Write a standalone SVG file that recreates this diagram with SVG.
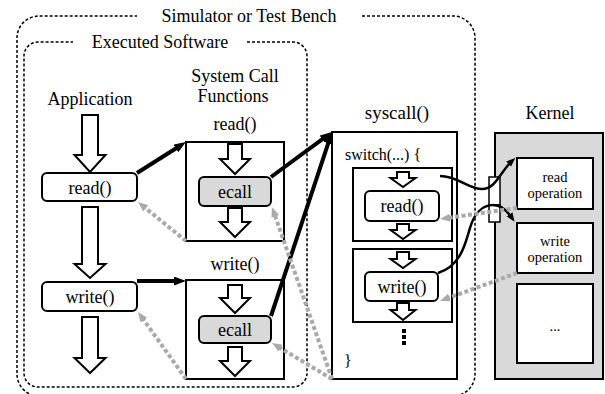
<svg xmlns="http://www.w3.org/2000/svg" width="605" height="394" viewBox="0 0 605 394">
<defs>
<style>
text{font-family:"Liberation Serif","Times New Roman",serif;fill:#000}
.t18{font-size:18px}
.t16{font-size:16px}
.t14{font-size:14.5px}
.mid{text-anchor:middle}
.dash{fill:none;stroke:#000;stroke-width:1.5;stroke-dasharray:3 2}
.box{fill:#fff;stroke:#000;stroke-width:2}
.gbox{fill:#d9d9d9;stroke:#000;stroke-width:2}
.hol{fill:#fff;stroke:#000;stroke-width:2;stroke-linejoin:miter}
.blk{fill:none;stroke:#000;stroke-width:4}
.crv{fill:none;stroke:#000;stroke-width:2.5}
.gry{fill:none;stroke:#aaa;stroke-width:4;stroke-dasharray:4 2.5}
</style>
<marker id="ab" markerUnits="userSpaceOnUse" markerWidth="12" markerHeight="10" refX="6" refY="4.5" orient="auto"><path d="M0,0 L12,4.5 L0,9 z" fill="#000"/></marker>
<marker id="ac" markerUnits="userSpaceOnUse" markerWidth="10" markerHeight="8" refX="4.5" refY="3.5" orient="auto"><path d="M0,0 L9,3.5 L0,7 z" fill="#000"/></marker>
<marker id="ag" markerUnits="userSpaceOnUse" markerWidth="10" markerHeight="9" refX="5" refY="4" orient="auto"><path d="M0,0 L10,4 L0,8 z" fill="#aaa"/></marker>
</defs>
<rect width="605" height="394" fill="#fff"/>

<g id="simulator">
<path class="dash" d="M362,16 H453 A22,22 0 0 1 475,38 V374 A22,22 0 0 1 453,396 H39 A22,22 0 0 1 17,374 V38 A22,22 0 0 1 39,16 H137"/>
<text class="t18 mid" x="249" y="22">Simulator or Test Bench</text>
</g>

<g id="software">
<path class="dash" d="M247,42 H293 A14,14 0 0 1 307,56 V373 A14,14 0 0 1 293,387 H38 A14,14 0 0 1 24,373 V56 A14,14 0 0 1 38,42 H73"/>
<text class="t18 mid" x="160" y="48">Executed Software</text>
</g>

<g id="application">
<text class="t18 mid" x="90" y="105">Application</text>
<path class="hol" d="M82,115 H98 V155 H105.5 L90,172 L74.5,155 H82 Z"/>
<path class="hol" d="M82,207 H98 V264 H105.5 L90,278 L74.5,264 H82 Z"/>
<path class="hol" d="M82,317 H98 V358 H105.5 L90,373 L74.5,358 H82 Z"/>
</g>
<g id="app-read">
<rect class="box" x="42" y="173" width="95" height="28" rx="5"/>
<text class="t18 mid" x="90" y="194">read()</text>
</g>
<g id="app-write">
<rect class="box" x="42" y="282" width="95" height="29" rx="5"/>
<text class="t18 mid" x="90" y="303">write()</text>
</g>

<g id="syscall-functions">
<text class="t18 mid" x="235" y="82">System Call</text>
<text class="t18 mid" x="233" y="102">Functions</text>
</g>
<g id="fn-read">
<text class="t18 mid" x="235" y="130">read()</text>
<rect class="box" x="186" y="142" width="98" height="99"/>
<path class="hol" d="M228,144 H242 V159 H250 L235,174 L220,159 H228 Z"/>
<rect class="gbox" x="199" y="177" width="72" height="29" rx="5"/>
<text class="t18 mid" x="235" y="198">ecall</text>
<path class="hol" d="M228,208 H242 V222 H250 L235,237 L220,222 H228 Z"/>
</g>
<g id="fn-write">
<text class="t18 mid" x="235" y="270">write()</text>
<rect class="box" x="186" y="280" width="98" height="99"/>
<path class="hol" d="M228,285 H242 V298 H250 L235,313 L220,298 H228 Z"/>
<rect class="gbox" x="199" y="316" width="72" height="27" rx="5"/>
<text class="t18 mid" x="235" y="336">ecall</text>
<path class="hol" d="M228,347 H242 V361 H250 L235,376 L220,361 H228 Z"/>
</g>

<g id="syscall">
<text class="t18 mid" x="397" y="119" style="font-size:19px">syscall()</text>
<rect class="box" x="332" y="132" width="125" height="247"/>
<text class="t16" x="345" y="160">switch(...) {</text>
<text class="t16" x="344" y="366">}</text>
<line x1="404" y1="329" x2="404" y2="346" stroke="#000" stroke-width="4" stroke-dasharray="4 2"/>
</g>
<g id="case-read">
<rect class="box" x="353" y="168" width="99" height="73"/>
<path class="hol" d="M397,172 H409 V178 H415.5 L403,187 L390.5,178 H397 Z"/>
<rect class="box" x="365" y="191" width="74" height="30" rx="5"/>
<text class="t18 mid" x="402" y="212">read()</text>
<path class="hol" d="M397,224 H409 V230 H415.5 L403,239 L390.5,230 H397 Z"/>
</g>
<g id="case-write">
<rect class="box" x="353" y="249" width="99" height="73"/>
<path class="hol" d="M397,252 H409 V259 H415.5 L403,268 L390.5,259 H397 Z"/>
<rect class="box" x="365" y="272" width="73" height="29" rx="5"/>
<text class="t18 mid" x="402" y="293">write()</text>
<path class="hol" d="M397,303 H409 V310 H415.5 L403,320 L390.5,310 H397 Z"/>
</g>

<g id="kernel">
<text class="t18 mid" x="550" y="119">Kernel</text>
<rect class="gbox" x="495" y="133" width="108" height="246"/>
</g>
<g id="read-operation">
<rect class="box" x="517" y="158" width="76" height="51"/>
<text class="t14 mid" x="555" y="182">read</text>
<text class="t14 mid" x="555" y="198">operation</text>
</g>
<g id="write-operation">
<rect class="box" x="517" y="223" width="76" height="50"/>
<text class="t14 mid" x="555" y="246">write</text>
<text class="t14 mid" x="555" y="262">operation</text>
</g>
<g id="other-operation">
<rect class="box" x="517" y="284" width="76" height="79"/>
<text class="t14 mid" x="555" y="331">...</text>
</g>
<g id="ports">
<rect x="489" y="177" width="11" height="28" fill="#fff" stroke="#000" stroke-width="1.5"/>
<rect x="489" y="205" width="11" height="17" fill="#fff" stroke="#000" stroke-width="1.5"/>
</g>

<g id="connectors">
<line class="blk" x1="137" y1="173" x2="180.9" y2="145.2" marker-end="url(#ab)"/>
<line class="blk" x1="137" y1="281" x2="180" y2="281" marker-end="url(#ab)"/>
<line class="blk" x1="271" y1="177" x2="327.2" y2="135.6" marker-end="url(#ab)"/>
<line class="blk" x1="271" y1="316" x2="330.1" y2="137.7" marker-end="url(#ab)"/>
<path class="crv" d="M440,176 C458,176 468,189 482,189 C496,189 500,172 512,161" marker-end="url(#ac)"/>
<path class="crv" d="M438,273 C462,266 466,240 470,228 C474,214 482,205 493,205 C502,205 508,212 512,218" marker-end="url(#ac)"/>
<line class="gry" x1="517" y1="208" x2="445" y2="218.3" marker-end="url(#ag)"/>
<line class="gry" x1="517" y1="273" x2="444.7" y2="299.3" marker-end="url(#ag)"/>
<line class="gry" x1="332" y1="379" x2="273.6" y2="211.7" marker-end="url(#ag)"/>
<line class="gry" x1="332" y1="379" x2="276.3" y2="345.6" marker-end="url(#ag)"/>
<line class="gry" x1="186" y1="241" x2="141.9" y2="205.2" marker-end="url(#ag)"/>
<line class="gry" x1="186" y1="379" x2="140.9" y2="316.1" marker-end="url(#ag)"/>
</g>
</svg>
